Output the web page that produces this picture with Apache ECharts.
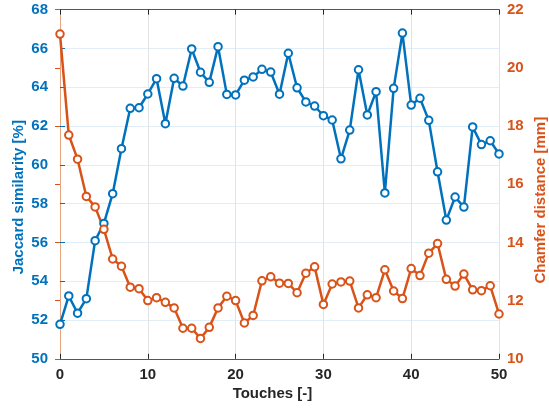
<!DOCTYPE html>
<html>
<head>
<meta charset="utf-8">
<script src="https://cdn.jsdelivr.net/npm/echarts@6/dist/echarts.min.js"></script>
<style>html,body{margin:0;padding:0;background:#fff;}#c{width:549px;height:408px;}</style>
</head>
<body>
<div id="c"></div>
<script>
const touches = Array.from({length: 51}, (_, i) => i);
const jaccard = [51.78, 53.24, 52.35, 53.1, 56.09, 56.98, 58.51, 60.83, 62.91, 62.94,
  63.65, 64.44, 62.12, 64.46, 64.06, 65.97, 64.77, 64.25, 66.09, 63.63,
  63.6, 64.36, 64.53, 64.92, 64.78, 63.64, 65.75, 63.97, 63.24, 63.03,
  62.53, 62.31, 60.31, 61.79, 64.9, 62.57, 63.77, 58.55, 63.94, 66.79,
  63.08, 63.43, 62.29, 59.64, 57.15, 58.34, 57.82, 61.95, 61.04, 61.24, 60.56];
const chamfer = [21.16, 17.69, 16.86, 15.58, 15.22, 14.45, 13.43, 13.18, 12.46, 12.41,
  12.0, 12.1, 11.94, 11.75, 11.05, 11.05, 10.7, 11.08, 11.75, 12.15,
  12.0, 11.23, 11.49, 12.68, 12.82, 12.6, 12.59, 12.27, 12.94, 13.16,
  11.87, 12.57, 12.64, 12.67, 11.75, 12.2, 12.1, 13.06, 12.33, 12.07,
  13.1, 12.86, 13.63, 13.96, 12.73, 12.5, 12.91, 12.37, 12.34, 12.51, 11.54];
const xTicks = [0, 10, 20, 30, 40, 50];
const leftTicks = [50, 52, 54, 56, 58, 60, 62, 64, 66, 68];
const rightTicks = [10, 12, 14, 16, 18, 20, 22];

const BLUE = '#0072BD', ORANGE = '#D95319', DARK = '#262626';
const FONT = '"Liberation Sans", Arial, sans-serif';

const chart = echarts.init(document.getElementById('c'), null, {renderer: 'canvas'});
chart.setOption({
  animation: false,
  backgroundColor: '#fff',
  grid: {left: 60, right: 50, top: 9.6, bottom: 49.2, containLabel: false, outerBoundsMode: 'none'},
  xAxis: [{
    type: 'value', min: xTicks[0], max: xTicks[xTicks.length - 1], interval: 10,
    name: 'Touches [-]', nameLocation: 'middle', nameGap: 28, nameMoveOverlap: false,
    nameTextStyle: {fontFamily: FONT, fontWeight: 'bold', fontSize: 15, color: DARK, padding: [0, 14, 0, 0]},
    axisLine: {show: true, lineStyle: {color: '#555', width: 1}},
    axisTick: {show: true, inside: true, length: 5, lineStyle: {color: DARK}},
    axisLabel: {fontFamily: FONT, fontWeight: 'bold', fontSize: 15, color: DARK, margin: 9},
    splitLine: {show: true, lineStyle: {color: '#e3e3e3', width: 1}}
  }, {
    type: 'value', position: 'top', min: xTicks[0], max: xTicks[xTicks.length - 1], interval: 10,
    axisLine: {show: true, lineStyle: {color: '#555', width: 1}},
    axisTick: {show: true, inside: true, length: 5, lineStyle: {color: DARK}},
    axisLabel: {show: false}, splitLine: {show: false}
  }],
  yAxis: [{
    type: 'value', position: 'left', min: leftTicks[0], max: leftTicks[leftTicks.length - 1], interval: 2,
    name: 'Jaccard similarity [%]', nameLocation: 'middle', nameGap: 34, nameMoveOverlap: false,
    nameTextStyle: {fontFamily: FONT, fontWeight: 'bold', fontSize: 15, color: BLUE, padding: [0, 26, 0, 0]},
    axisLine: {show: true, lineStyle: {color: '#5a9fd4', width: 1}},
    axisTick: {show: true, inside: true, length: 5, lineStyle: {color: BLUE}},
    axisLabel: {fontFamily: FONT, fontWeight: 'bold', fontSize: 15, color: BLUE, margin: 12},
    splitLine: {show: true, lineStyle: {color: '#e1edf7', width: 1}}
  }, {
    type: 'value', position: 'right', min: rightTicks[0], max: rightTicks[rightTicks.length - 1], interval: 2,
    name: 'Chamfer distance [mm]', nameLocation: 'middle', nameGap: 34, nameMoveOverlap: false,
    nameTextStyle: {fontFamily: FONT, fontWeight: 'bold', fontSize: 15, color: ORANGE, padding: [0, 32, 0, 0]},
    axisLine: {show: true, lineStyle: {color: '#e8a584', width: 1}},
    axisTick: {show: true, inside: true, length: 5, lineStyle: {color: ORANGE}},
    axisLabel: {fontFamily: FONT, fontWeight: 'bold', fontSize: 15, color: ORANGE, margin: 8},
    splitLine: {show: false}
  }],
  series: [{
    type: 'line', xAxisIndex: 0, yAxisIndex: 0,
    data: touches.map((t, i) => [t, jaccard[i]]),
    symbol: 'emptyCircle', symbolSize: 7.5, showSymbol: true,
    lineStyle: {color: BLUE, width: 2.5},
    itemStyle: {color: BLUE, borderColor: BLUE, borderWidth: 2.8}
  }, {
    type: 'line', xAxisIndex: 0, yAxisIndex: 1,
    data: touches.map((t, i) => [t, chamfer[i]]),
    symbol: 'emptyCircle', symbolSize: 7.5, showSymbol: true,
    lineStyle: {color: ORANGE, width: 2.5},
    itemStyle: {color: ORANGE, borderColor: ORANGE, borderWidth: 2.8}
  }]
});
</script>
</body>
</html>
